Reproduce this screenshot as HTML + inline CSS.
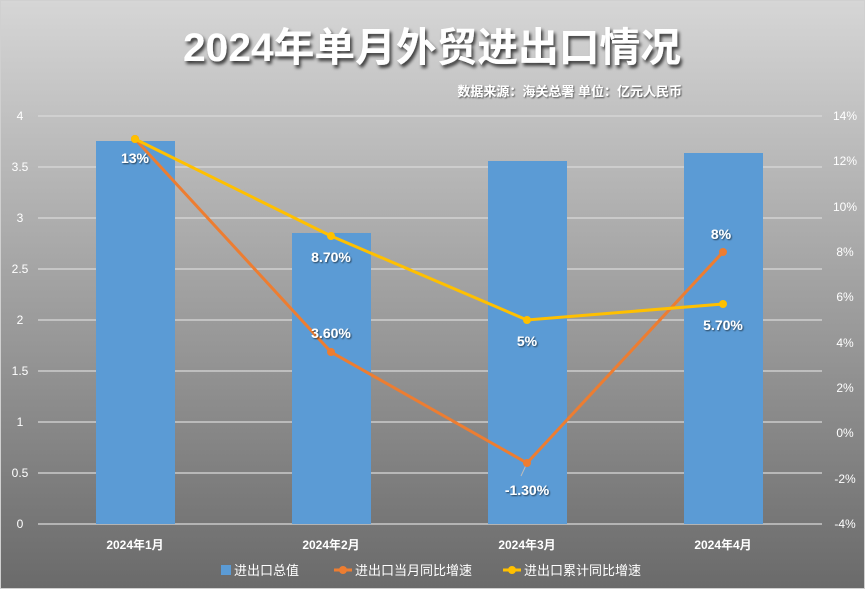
<!DOCTYPE html>
<html><head><meta charset="utf-8"><style>
html,body{margin:0;padding:0}
body{width:865px;height:589px;overflow:hidden;font-family:"Liberation Sans","Noto Sans CJK SC",sans-serif}
</style></head><body>
<svg width="865" height="589" xmlns="http://www.w3.org/2000/svg" font-family="Liberation Sans, Noto Sans CJK SC, sans-serif">
<defs>
<linearGradient id="bg" x1="0" y1="0" x2="0" y2="1">
<stop offset="0" stop-color="#d6d6d6"/><stop offset="1" stop-color="#6a6a6a"/>
</linearGradient>
<filter id="sh" x="-5%" y="-20%" width="110%" height="150%"><feDropShadow dx="2" dy="3" stdDeviation="1.5" flood-color="#000" flood-opacity="0.7"/></filter>
<filter id="sh2"><feDropShadow dx="1" dy="1" stdDeviation="0.8" flood-color="#000" flood-opacity="0.6"/></filter>
</defs>
<rect width="865" height="589" fill="url(#bg)"/>
<rect x="0.5" y="0.5" width="864" height="588" fill="none" stroke="#d0d0d0"/>
<text x="432" y="61" text-anchor="middle" font-size="40" font-weight="bold" fill="#fff" filter="url(#sh)" textLength="498" lengthAdjust="spacingAndGlyphs">2024年单月外贸进出口情况</text>
<text x="682" y="96" text-anchor="end" font-size="13" font-weight="bold" fill="#fff" filter="url(#sh2)">数据来源：海关总署 单位：亿元人民币</text>
<g stroke="#d9d9d9" stroke-width="1.2">
<line x1="38" x2="822" y1="116" y2="116"/><line x1="38" x2="822" y1="167" y2="167"/><line x1="38" x2="822" y1="218" y2="218"/><line x1="38" x2="822" y1="269" y2="269"/><line x1="38" x2="822" y1="320" y2="320"/><line x1="38" x2="822" y1="371" y2="371"/><line x1="38" x2="822" y1="422" y2="422"/><line x1="38" x2="822" y1="473" y2="473"/><line x1="38" x2="822" y1="524" y2="524"/>
</g>
<g font-size="12" fill="#fff" text-anchor="middle">
<text x="20" y="120">4</text><text x="20" y="171">3.5</text><text x="20" y="222">3</text><text x="20" y="273">2.5</text><text x="20" y="324">2</text><text x="20" y="375">1.5</text><text x="20" y="426">1</text><text x="20" y="477">0.5</text><text x="20" y="528">0</text>
<text x="845" y="120">14%</text><text x="845" y="165">12%</text><text x="845" y="211">10%</text><text x="845" y="256">8%</text><text x="845" y="301">6%</text><text x="845" y="347">4%</text><text x="845" y="392">2%</text><text x="845" y="437">0%</text><text x="845" y="483">-2%</text><text x="845" y="528">-4%</text>
</g>
<g fill="#5b9bd5">
<rect x="96" y="141" width="79" height="383"/><rect x="292" y="233" width="79" height="291"/><rect x="488" y="161" width="79" height="363"/><rect x="684" y="153" width="79" height="371"/>
</g>
<line x1="527" y1="463" x2="521" y2="476" stroke="#bbb"/>
<polyline points="135,139 331,352 527,463 723,252" fill="none" stroke="#ed7d31" stroke-width="3"/>
<g fill="#ed7d31"><circle cx="135" cy="139" r="4"/><circle cx="331" cy="352" r="4"/><circle cx="527" cy="463" r="4"/><circle cx="723" cy="252" r="4"/></g>
<polyline points="135,139 331,236 527,320 723,304" fill="none" stroke="#ffc000" stroke-width="3"/>
<g fill="#ffc000"><circle cx="135" cy="139" r="4"/><circle cx="331" cy="236" r="4"/><circle cx="527" cy="320" r="4"/><circle cx="723" cy="304" r="4"/></g>
<g font-size="14" font-weight="bold" fill="#fff" text-anchor="middle" filter="url(#sh2)">
<text x="135" y="163">13%</text><text x="331" y="262">8.70%</text><text x="331" y="338">3.60%</text><text x="527" y="346">5%</text><text x="527" y="495">-1.30%</text><text x="721" y="239">8%</text><text x="723" y="330">5.70%</text>
</g>
<g font-size="12" font-weight="bold" fill="#fff" text-anchor="middle">
<text x="135" y="549">2024年1月</text><text x="331" y="549">2024年2月</text><text x="527" y="549">2024年3月</text><text x="723" y="549">2024年4月</text>
</g>
<rect x="221" y="565" width="10" height="10" fill="#5b9bd5"/>
<line x1="334" x2="352" y1="570" y2="570" stroke="#ed7d31" stroke-width="3"/><circle cx="343" cy="570" r="4" fill="#ed7d31"/>
<line x1="503" x2="521" y1="570" y2="570" stroke="#ffc000" stroke-width="3"/><circle cx="512" cy="570" r="4" fill="#ffc000"/>
<g font-size="13" fill="#fff">
<text x="234" y="575">进出口总值</text><text x="355" y="575">进出口当月同比增速</text><text x="524" y="575">进出口累计同比增速</text>
</g>
</svg>
</body></html>
